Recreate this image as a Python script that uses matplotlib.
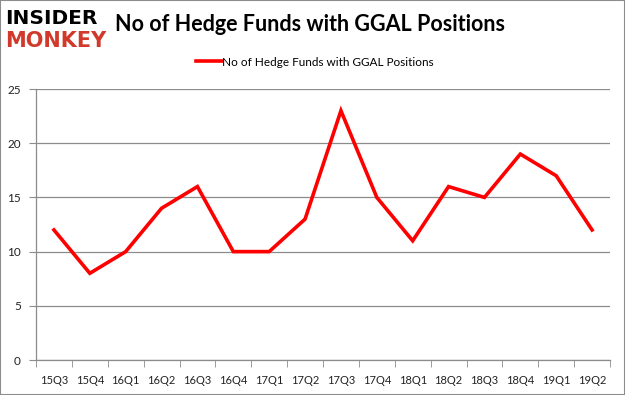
import matplotlib
matplotlib.use("Agg")
import matplotlib.pyplot as plt
import numpy as np

quarters = ["15Q3", "15Q4", "16Q1", "16Q2", "16Q3", "16Q4", "17Q1", "17Q2",
            "17Q3", "17Q4", "18Q1", "18Q2", "18Q3", "18Q4", "19Q1", "19Q2"]
funds = [12, 8, 10, 14, 16, 10, 10, 13, 23, 15, 11, 16, 15, 19, 17, 12]
yticks = [0, 5, 10, 15, 20, 25]
series_label = "No of Hedge Funds with GGAL Positions"
title = "No of Hedge Funds with GGAL Positions"

fig = plt.figure(figsize=(6.25, 3.95), dpi=100)
fig.patch.set_facecolor("white")
ax = fig.add_axes([0.0576, 0.0886, 0.9184, 0.686])

x = np.arange(len(quarters))
line, = ax.plot(x, funds, color="#ff0000", lw=2.6, solid_joinstyle="miter",
                label=series_label)
ax.set_xlim(-0.5, len(quarters) - 0.5)
ax.set_ylim(0, 25)
ax.set_yticks(yticks)
ax.set_yticklabels([str(v) for v in yticks], family="Lato")
ax.grid(axis="y", color="#8c8c8c", lw=0.9)
ax.set_axisbelow(True)

ax.set_xticks(x)
ax.set_xticklabels(quarters, family="Lato")
ax.set_xticks(np.arange(-0.5, len(quarters)), minor=True)
ax.tick_params(axis="x", which="major", length=0, pad=11, labelsize=8, labelcolor="#222222")
ax.tick_params(axis="x", which="minor", length=5, color="#8c8c8c", direction="out")
ax.tick_params(axis="y", length=5, color="#8c8c8c", labelsize=8.5, labelcolor="#222222", pad=6)

for s in ["top", "right"]:
    ax.spines[s].set_visible(False)
for s in ["left", "bottom"]:
    ax.spines[s].set_color("#8c8c8c")
    ax.spines[s].set_linewidth(0.9)

fig.legend(handles=[line], labels=[series_label], loc="center",
           bbox_to_anchor=(0.504, 0.843), frameon=False,
           prop={"family": "Lato", "size": 8.5},
           handlelength=2.2, handletextpad=0.0)

fig.text(0.184, 0.937, title, fontsize=15.5, fontweight="bold",
         family="Lato", va="center", ha="left", color="black")
fig.text(0.008, 0.952, "INSIDER", fontsize=14.5, fontweight="heavy",
         family="DejaVu Sans", va="center", ha="left", color="black")
fig.text(0.008, 0.895, "MONKEY", fontsize=15, fontweight="heavy",
         family="DejaVu Sans", va="center", ha="left", color="#d13a2a")

border = plt.Rectangle((0, 0), 1, 1, transform=fig.transFigure, fill=False,
                       edgecolor="#8c8c8c", lw=1.5)
fig.add_artist(border)

fig.savefig("out.png", dpi=100, facecolor="white")
